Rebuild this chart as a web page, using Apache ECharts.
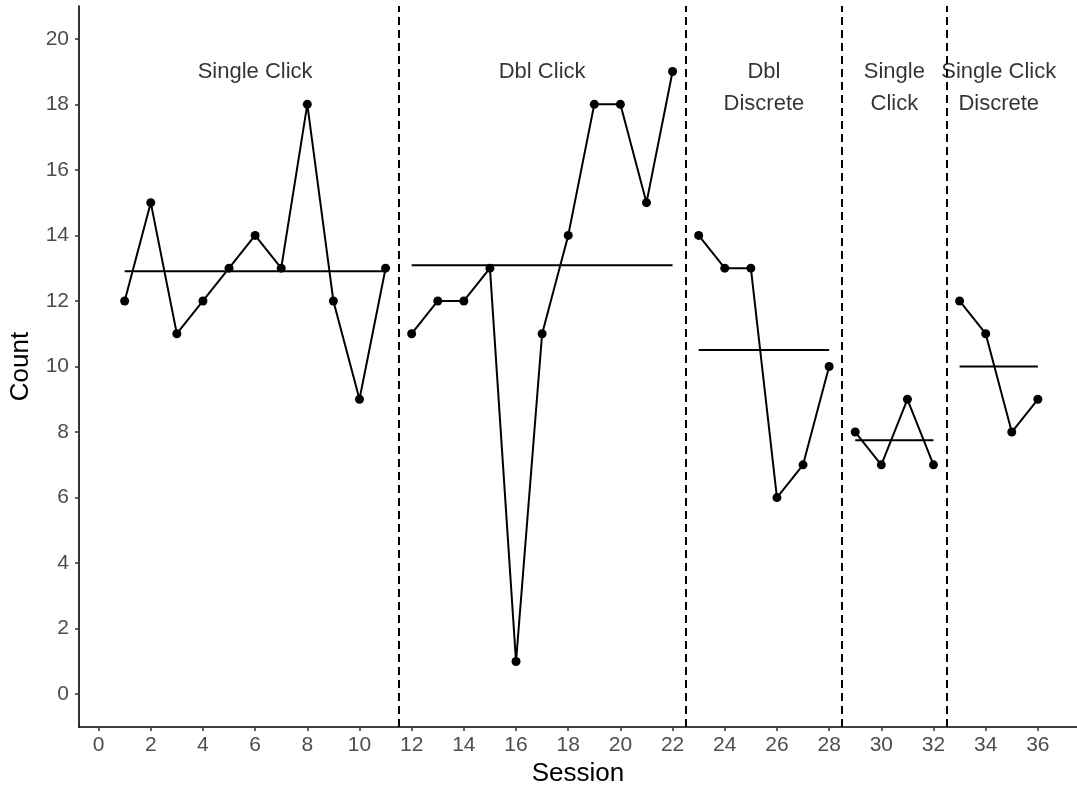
<!DOCTYPE html>
<html>
<head>
<meta charset="utf-8">
<script src="https://cdn.jsdelivr.net/npm/echarts@6/dist/echarts.min.js"></script>
<style>
html,body{margin:0;padding:0;background:#fff;}
#chart{width:1077px;height:788px;}
</style>
</head>
<body>
<div id="chart"></div>
<script>
// ---- data ----
const sessions = [1,2,3,4,5,6,7,8,9,10,11,12,13,14,15,16,17,18,19,20,21,22,23,24,25,26,27,28,29,30,31,32,33,34,35,36];
const counts   = [12,15,11,12,13,14,13,18,12,9,13, 11,12,12,13,1,11,14,18,18,15,19, 14,13,13,6,7,10, 8,7,9,7, 12,11,8,9];
const phaseNames  = ['Single Click','Dbl Click','Dbl\nDiscrete','Single\nClick','Single Click\nDiscrete'];
const phaseStart  = [1,12,23,29,33];
const phaseEnd    = [11,22,28,32,36];
const phaseChanges = [11.5,22.5,28.5,32.5];
const labelX = [6,17,25.5,30.5,34.5];
const labelY = [19,19,18.5,18.5,18.5];
const xTicks = [0,2,4,6,8,10,12,14,16,18,20,22,24,26,28,30,32,34,36];
const yTicks = [0,2,4,6,8,10,12,14,16,18,20];

const FONT = '"Liberation Sans", Arial, sans-serif';
const series = [];

phaseStart.forEach((s, i) => {
  const e = phaseEnd[i];
  const pts = [];
  let sum = 0, n = 0;
  sessions.forEach((x, k) => {
    if (x >= s && x <= e) { pts.push([x, counts[k]]); sum += counts[k]; n++; }
  });
  const mean = sum / n;
  series.push({
    type: 'line', data: pts, symbol: 'circle', symbolSize: 9,
    lineStyle: {color: '#000', width: 2}, itemStyle: {color: '#000'},
    silent: true, z: 3
  });
  series.push({
    type: 'line', data: [[s, mean], [e, mean]], symbol: 'none',
    lineStyle: {color: '#000', width: 2}, silent: true, z: 2
  });
});

series.push({
  type: 'scatter', symbolSize: 0, silent: true,
  data: phaseNames.map((nm, i) => ({name: nm, value: [labelX[i], labelY[i]]})),
  label: {
    show: true, position: 'inside', formatter: p => p.name,
    color: '#000', fontFamily: FONT, fontSize: 22, lineHeight: 32, align: 'center'
  },
  markLine: {
    silent: true, symbol: ['none','none'], label: {show: false},
    lineStyle: {color: '#000', width: 2, type: [8,5]},
    data: phaseChanges.map(v => ({xAxis: v}))
  }
});

const chart = echarts.init(document.getElementById('chart'), null, {renderer: 'canvas'});
chart.setOption({
  animation: false,
  backgroundColor: '#fff',
  grid: {left: 79, right: 0, top: 6, bottom: 61, containLabel: false, outerBoundsMode: 'none'},
  xAxis: {
    type: 'value', min: -0.75, max: 37.5,
    name: 'Session', nameLocation: 'middle', nameGap: 34,
    nameTextStyle: {color: '#000', fontFamily: FONT, fontSize: 26},
    axisLine: {show: true, onZero: false, lineStyle: {color: '#000', width: 1.6}},
    axisTick: {show: true, customValues: xTicks, length: 4, lineStyle: {color: '#333', width: 1.5}},
    axisLabel: {customValues: xTicks, color: '#4d4d4d', fontFamily: FONT, fontSize: 21, margin: 8},
    splitLine: {show: false}
  },
  yAxis: {
    type: 'value', min: -1, max: 21,
    name: 'Count', nameLocation: 'middle', nameGap: 45,
    nameTextStyle: {color: '#000', fontFamily: FONT, fontSize: 26},
    axisLine: {show: true, onZero: false, lineStyle: {color: '#000', width: 1.6}},
    axisTick: {show: true, customValues: yTicks, length: 4, lineStyle: {color: '#333', width: 1.5}},
    axisLabel: {customValues: yTicks, color: '#4d4d4d', fontFamily: FONT, fontSize: 21, margin: 10},
    splitLine: {show: false}
  },
  series: series
});
</script>
</body>
</html>
